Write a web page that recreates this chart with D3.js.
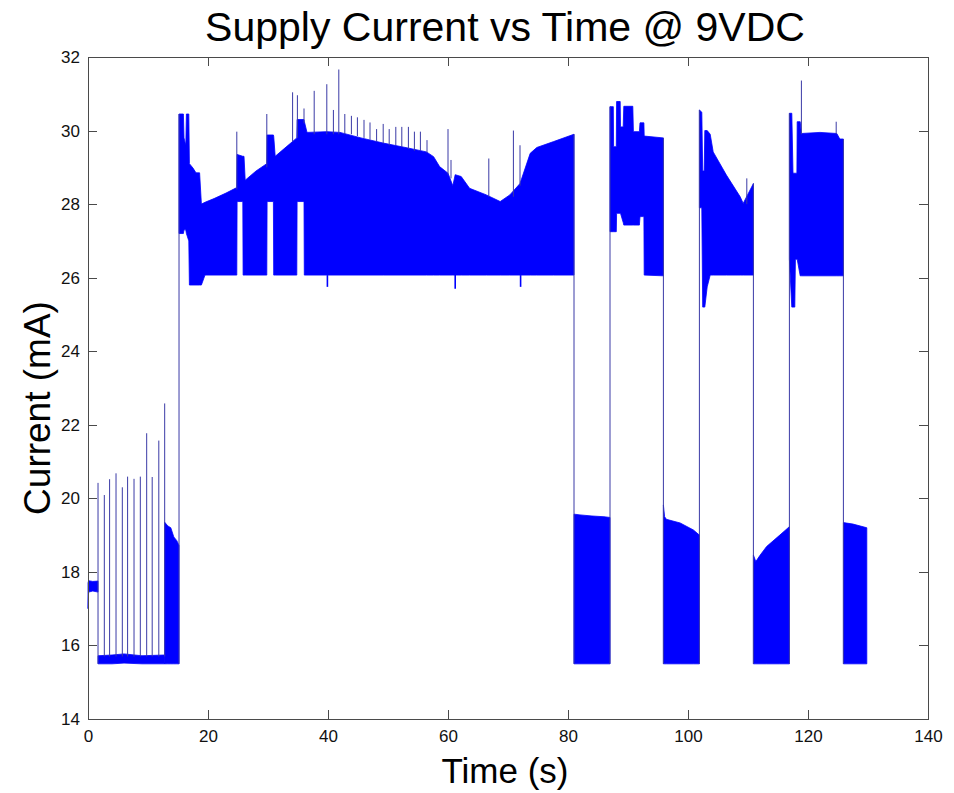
<!DOCTYPE html>
<html>
<head>
<meta charset="utf-8">
<title>Supply Current vs Time @ 9VDC</title>
<script src="https://cdn.jsdelivr.net/npm/d3@7"></script>
<style>
  body { margin: 0; background: #fff; }
  svg text { font-family: "Liberation Sans", Arial, Helvetica, sans-serif; }
</style>
</head>
<body>
<div id="chart"></div>
<script>
// Envelope of the current signal, rows are [time (s), low (mA), high (mA)]
const bandStart = [[0, 17.0, 17.7], [0.1, 17.45, 17.76], [0.8, 17.48, 17.74], [1.67, 17.45, 17.75]];
const bandIdle = [[1.67, 15.5, 15.72], [4, 15.5, 15.74], [6, 15.52, 15.77], [9, 15.5, 15.72], [12.78, 15.5, 15.74]];
const bandWake = [[12.78, 15.5, 19.35], [13.3, 15.5, 19.25], [13.8, 15.5, 19.2], [14.3, 15.5, 18.95], [14.8, 15.5, 18.85], [15.17, 15.5, 18.72]];
const bandRun1 = [
  [15.17, 27.2, 30.45], [15.9, 27.2, 30.45], [16.0, 27.3, 29.8], [16.3, 27.3, 29.6],
  [16.4, 27.2, 30.45], [16.8, 27.0, 30.45], [16.9, 25.8, 29.1], [17.5, 25.8, 28.98],
  [18.0, 25.8, 28.85], [18.6, 25.8, 28.85], [18.9, 25.8, 28.0], [19.5, 26.07, 28.05],
  [21.0, 26.07, 28.15], [23.0, 26.07, 28.3], [24.8, 26.07, 28.45],
  [24.85, 28.07, 29.35], [25.8, 28.07, 29.3], [25.85, 26.07, 29.3], [26.0, 26.07, 29.3],
  [26.2, 26.07, 28.65], [28.0, 26.07, 28.9], [29.8, 26.07, 29.1],
  [29.85, 28.07, 29.88], [30.9, 28.07, 29.88], [30.95, 26.07, 29.85], [31.2, 26.07, 29.3],
  [33.0, 26.07, 29.55], [34.8, 26.07, 29.8],
  [34.85, 28.07, 30.3], [36.0, 28.07, 30.3], [36.05, 26.07, 30.25], [36.5, 26.07, 29.95],
  [39.8, 26.07, 29.97], [42.0, 26.07, 29.95], [45.5, 26.07, 29.8], [49.2, 26.07, 29.66],
  [53.5, 26.07, 29.52], [56.4, 26.07, 29.42], [57.6, 26.07, 29.29], [58.6, 26.07, 29.02],
  [60.0, 26.07, 28.84], [60.8, 26.07, 28.5], [61.2, 26.07, 28.8], [62.2, 26.07, 28.75],
  [63.6, 26.07, 28.43], [66.4, 26.07, 28.25], [68.7, 26.07, 28.07], [70.3, 26.07, 28.25],
  [72.0, 26.07, 28.56], [73.7, 26.07, 29.38], [74.8, 26.07, 29.54], [77.6, 26.07, 29.7],
  [81.0, 26.07, 29.9]
];
const bandLow1 = [[81.0, 15.5, 19.57], [82, 15.5, 19.55], [84, 15.5, 19.52], [86, 15.5, 19.5], [87.0, 15.5, 19.48]];
const bandRun2 = [
  [87.0, 27.25, 30.65], [87.55, 27.25, 30.65], [87.6, 27.25, 29.56], [88.05, 27.25, 29.56],
  [88.1, 27.75, 30.79], [88.7, 27.75, 30.79], [88.75, 27.75, 30.1], [89.2, 27.5, 30.1],
  [89.3, 27.43, 30.66], [90.8, 27.43, 30.66], [90.9, 27.43, 29.97], [91.9, 27.43, 29.97],
  [92.0, 27.66, 30.21], [92.65, 27.66, 30.21], [92.7, 26.07, 29.85], [95.9, 26.05, 29.8]
];
const bandLow2 = [[95.9, 15.5, 19.82], [96.1, 15.5, 19.5], [96.4, 15.5, 19.43], [98.7, 15.5, 19.33], [100.9, 15.5, 19.14], [101.9, 15.5, 19.0]];
const bandRun3 = [
  [101.9, 27.9, 30.56], [102.3, 27.9, 30.5], [102.45, 25.2, 28.9], [102.7, 25.2, 28.9],
  [102.8, 25.2, 30.0], [103.2, 25.75, 30.0], [103.7, 26.07, 29.9], [104.2, 26.07, 29.42],
  [106.4, 26.07, 28.79], [108.7, 26.07, 28.2], [109.2, 26.07, 28.02], [110.9, 26.07, 28.56]
];
const bandLow3 = [[110.9, 15.5, 18.46], [111.3, 15.5, 18.28], [112, 15.5, 18.45], [113.1, 15.5, 18.69], [115.3, 15.5, 19.0], [116.9, 15.5, 19.23]];
const bandRun4 = [
  [116.9, 26.5, 30.47], [117.3, 25.2, 30.47], [117.5, 25.2, 28.84], [117.8, 25.2, 28.84],
  [117.9, 26.5, 28.84], [118.15, 26.5, 28.84], [118.2, 26.5, 30.24], [118.7, 26.05, 30.24],
  [118.9, 26.05, 29.92], [122, 26.05, 29.95], [124.8, 26.05, 29.92], [125.3, 26.05, 29.77],
  [125.9, 26.05, 29.77]
];
const bandLow4 = [[125.9, 15.5, 19.34], [127.5, 15.5, 19.3], [129.8, 15.5, 19.2]];

// Narrow spikes, rows are [time (s), from (mA), to (mA)]
const spikesIdle = [
  [1.67, 15.5, 20.42], [2.72, 15.7, 20.09], [3.6, 15.7, 20.52], [4.67, 15.7, 20.68],
  [5.72, 15.7, 20.3], [6.6, 15.7, 20.59], [7.67, 15.7, 20.53], [8.72, 15.7, 20.59],
  [9.78, 15.7, 21.77], [10.7, 15.7, 20.58], [11.8, 15.7, 21.57], [12.78, 15.7, 22.58]
];
const spikesRun = [
  [24.8, 28.4, 29.97], [29.8, 29.0, 30.45], [34.1, 29.7, 31.04], [34.9, 29.8, 30.96],
  [36.0, 30.2, 30.6], [37.7, 29.9, 31.08], [39.8, 29.9, 31.26], [40.9, 29.9, 30.56],
  [41.8, 29.9, 31.66], [42.8, 29.9, 30.45], [43.9, 29.9, 30.4], [44.9, 29.85, 30.36],
  [46.0, 29.8, 30.29], [47.0, 29.75, 30.22], [48.1, 29.7, 30.04], [49.2, 29.65, 30.18],
  [50.2, 29.6, 30.04], [51.3, 29.6, 30.1], [52.3, 29.55, 30.1], [53.4, 29.5, 30.1],
  [54.4, 29.45, 29.97], [55.4, 29.45, 29.97], [56.5, 29.4, 29.74], [60.0, 28.8, 30.04],
  [60.5, 28.7, 29.2], [66.8, 28.2, 29.24], [70.9, 28.2, 30.0], [72.0, 28.5, 29.6],
  [109.8, 28.0, 28.7], [118.9, 29.9, 31.36], [124.7, 29.9, 30.24]
];
const dipsRun = [[39.9, 26.07, 25.75], [61.2, 26.07, 25.7], [72.1, 26.07, 25.75]];

// Vertical switching edges between the low and high states
const edges = [
  [15.17, 15.5, 30.45], [81.0, 15.5, 29.9], [87.0, 15.5, 30.65], [95.9, 15.5, 29.8],
  [101.9, 15.5, 30.56], [110.9, 15.5, 28.56], [116.9, 15.5, 30.47], [125.9, 15.5, 29.77]
];

const xTicks = [0, 20, 40, 60, 80, 100, 120, 140];
const yTicks = [14, 16, 18, 20, 22, 24, 26, 28, 30, 32];

// Layout
const width = 954;
const height = 793;
const margin = { top: 57, right: 26, bottom: 74, left: 88 };
const innerW = width - margin.left - margin.right;
const innerH = height - margin.top - margin.bottom;

const svg = d3.select('#chart')
  .append('svg')
  .attr('width', width)
  .attr('height', height);

const x = d3.scaleLinear().domain([0, 140]).range([margin.left, margin.left + innerW]);
const y = d3.scaleLinear().domain([14, 32]).range([margin.top + innerH, margin.top]);

const plot = svg.append('g');

// Filled envelopes
const area = d3.area()
  .x(d => x(d[0]))
  .y0(d => y(d[1]))
  .y1(d => y(d[2]));

const bands = [bandStart, bandIdle, bandWake, bandRun1, bandLow1, bandRun2,
  bandLow2, bandRun3, bandLow3, bandRun4, bandLow4];

plot.selectAll('.band')
  .data(bands)
  .enter()
  .append('path')
  .attr('class', 'band')
  .attr('d', area)
  .attr('fill', '#0000ff')
  .attr('stroke', '#0000ff')
  .attr('stroke-width', 0.8);

// Thin lines: edges and spikes
const drawLines = (rows, color, w) => {
  plot.append('g')
    .selectAll('line')
    .data(rows)
    .enter()
    .append('line')
    .attr('x1', d => x(d[0]))
    .attr('x2', d => x(d[0]))
    .attr('y1', d => y(d[1]))
    .attr('y2', d => y(d[2]))
    .attr('stroke', color)
    .attr('stroke-width', w);
};

drawLines(edges, '#3a3aa6', 1);
drawLines(spikesIdle, '#3a3aa6', 1);
drawLines(spikesRun, '#3a3aa6', 1);
drawLines(dipsRun, '#0000ff', 1.6);

// Axes (MATLAB style box with inward ticks)
const axisColor = '#4a4a4a';
const styleAxis = g => {
  g.select('.domain').attr('stroke', axisColor);
  g.selectAll('.tick line').attr('stroke', axisColor);
  g.selectAll('.tick text').attr('fill', '#111').attr('font-size', 17);
};

svg.append('g')
  .attr('transform', `translate(0,${margin.top + innerH})`)
  .call(d3.axisBottom(x).tickValues(xTicks).tickSizeInner(-9).tickSizeOuter(0).tickPadding(11))
  .call(styleAxis);

svg.append('g')
  .attr('transform', `translate(${margin.left},0)`)
  .call(d3.axisLeft(y).tickValues(yTicks).tickSizeInner(-9).tickSizeOuter(0).tickPadding(8))
  .call(styleAxis);

svg.append('g')
  .attr('transform', `translate(0,${margin.top})`)
  .call(d3.axisTop(x).tickValues(xTicks).tickSizeInner(-9).tickSizeOuter(0).tickFormat(''))
  .call(styleAxis);

svg.append('g')
  .attr('transform', `translate(${margin.left + innerW},0)`)
  .call(d3.axisRight(y).tickValues(yTicks).tickSizeInner(-9).tickSizeOuter(0).tickFormat(''))
  .call(styleAxis);

svg.selectAll('.domain, .tick line').attr('shape-rendering', 'crispEdges');

// Title and axis labels
svg.append('text')
  .attr('x', 505)
  .attr('y', 41)
  .attr('text-anchor', 'middle')
  .attr('font-size', 41)
  .text('Supply Current vs Time @ 9VDC');

svg.append('text')
  .attr('x', 505)
  .attr('y', 783)
  .attr('text-anchor', 'middle')
  .attr('font-size', 35)
  .text('Time (s)');

svg.append('text')
  .attr('transform', 'translate(50,408) rotate(-90)')
  .attr('text-anchor', 'middle')
  .attr('font-size', 37)
  .text('Current (mA)');
</script>
</body>
</html>
